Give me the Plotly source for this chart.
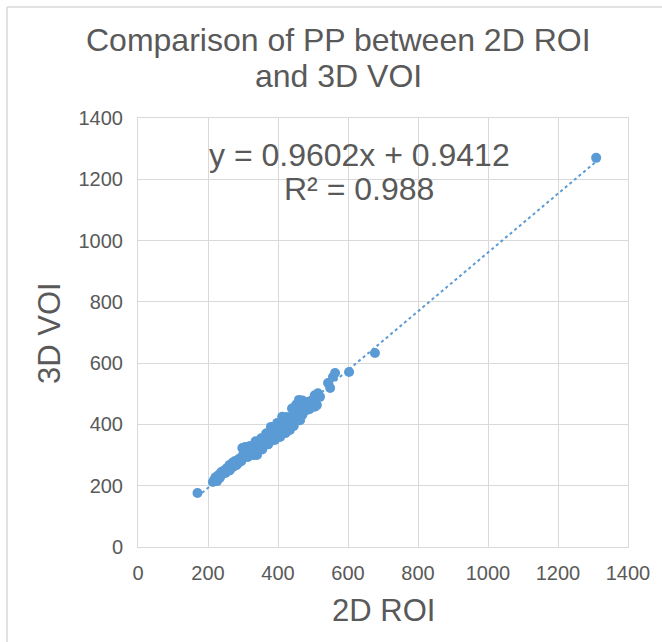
import plotly.graph_objects as go

# ---- data ----
roi_2d = [170, 214, 218, 222, 226, 230, 234, 238, 242, 246, 250, 254, 258, 262, 266,
          270, 272, 276, 280, 284, 288, 292, 295, 298, 300, 303, 306, 308, 311, 314,
          316, 320, 324, 328, 330, 334, 338, 340, 344, 348, 350, 353, 356, 358, 362,
          365, 368, 371, 373, 376, 379, 382, 385, 388, 391, 394, 397, 400, 403, 406,
          408, 411, 414, 416, 419, 422, 425, 428, 431, 434, 436, 440, 443, 446, 450,
          454, 458, 463, 463, 468, 472, 477, 477, 483, 488, 494, 500, 505, 511, 514,
          520, 543, 549, 557, 563, 603, 677, 1309,
          332, 345, 360, 372, 384, 396, 410, 426, 438, 452,
          320, 336, 352, 366, 380, 398, 412, 440, 452, 460, 470, 490, 505,
          340, 355, 372, 390, 405, 420, 445, 458, 470, 490, 262, 282]
voi_3d = [176, 212, 220, 228, 215, 235, 226, 245, 238, 250, 242, 258, 250, 268, 258,
          275, 262, 280, 270, 284, 276, 290, 280, 323, 300, 292, 326, 310, 298, 294,
          318, 305, 312, 317, 300, 322, 310, 325, 318, 323, 330, 340, 349, 332, 345,
          355, 340, 372, 350, 362, 345, 378, 382, 360, 349, 370, 385, 368, 392, 359,
          378, 398, 414, 385, 405, 372, 424, 395, 410, 382, 398, 420, 431, 405, 425,
          447, 430, 414, 473, 440, 455, 473, 457, 447, 462, 470, 480, 458, 463, 502,
          490, 535, 519, 555, 568, 571, 633, 1270,
          328, 335, 338, 358, 365, 380, 390, 400, 412, 436,
          330, 345, 355, 370, 392, 405, 425, 452, 465, 480, 478, 475, 495,
          300, 318, 335, 355, 365, 385, 395, 420, 432, 450, 250, 268]

slope = 0.9602
intercept = 0.9412
x_ticks = [0, 200, 400, 600, 800, 1000, 1200, 1400]
y_ticks = [0, 200, 400, 600, 800, 1000, 1200, 1400]

title_lines = ["Comparison of PP between 2D ROI", "and 3D VOI"]
eq_text = "y = 0.9602x + 0.9412"
r2_text = "R² = 0.988"
x_title = "2D ROI"
y_title = "3D VOI"

BLUE = "#5B9BD5"
TXT = "#595959"
GRID = "#D9D9D9"
FONT = "Liberation Sans, Arial, sans-serif"

W, H = 662, 642
L, R, T, B = 138, 34, 118, 95
PW, PH = W - L - R, H - T - B


def px(x):
    return (x - L) / PW


def py(y):
    return (H - B - y) / PH


fig = go.Figure()

xmin, xmax = min(roi_2d), max(roi_2d)
fig.add_trace(go.Scatter(
    x=[xmin, xmax], y=[slope * xmin + intercept, slope * xmax + intercept],
    mode="lines", line=dict(color=BLUE, width=2, dash="dot"),
    hoverinfo="skip", showlegend=False))

fig.add_trace(go.Scatter(
    x=roi_2d, y=voi_3d, mode="markers",
    marker=dict(color=BLUE, size=10, line=dict(width=0)),
    showlegend=False))

axis_common = dict(
    range=[0, 1400], tickvals=x_ticks, showgrid=True, gridcolor=GRID, gridwidth=1,
    zeroline=False, showline=True, mirror=True, linecolor=GRID, linewidth=1,
    tickfont=dict(family=FONT, size=20, color=TXT), ticks="", fixedrange=True)

fig.update_layout(
    width=W, height=H,
    margin=dict(l=L, r=R, t=T, b=B, pad=0),
    paper_bgcolor="white", plot_bgcolor="white",
    font=dict(family=FONT, color=TXT),
    xaxis=dict(axis_common, ticklabelstandoff=8),
    yaxis=dict(axis_common, tickvals=y_ticks, ticklabelstandoff=10),
)

anns = [
    (title_lines[0], 338, 40, 32, 0),
    (title_lines[1], 338, 76, 32, 0),
    (eq_text, 359, 155, 32, 0),
    (r2_text, 359, 189, 32, 0),
    (x_title, 383, 610, 31, 0),
    (y_title, 49, 333, 31, -90),
]
for text, x, y, size, ang in anns:
    fig.add_annotation(
        text=text, xref="paper", yref="paper", x=px(x), y=py(y),
        xanchor="center", yanchor="middle", showarrow=False, textangle=ang,
        font=dict(family=FONT, size=size, color=TXT))

# outer chart frame (top and left edges visible)
fig.add_shape(type="line", xref="paper", yref="paper",
              x0=px(7), x1=px(W + 5), y0=py(7), y1=py(7),
              line=dict(color=GRID, width=1.5))
fig.add_shape(type="line", xref="paper", yref="paper",
              x0=px(7), x1=px(7), y0=py(7), y1=py(H + 5),
              line=dict(color=GRID, width=1.5))

fig.write_html("out.html")
